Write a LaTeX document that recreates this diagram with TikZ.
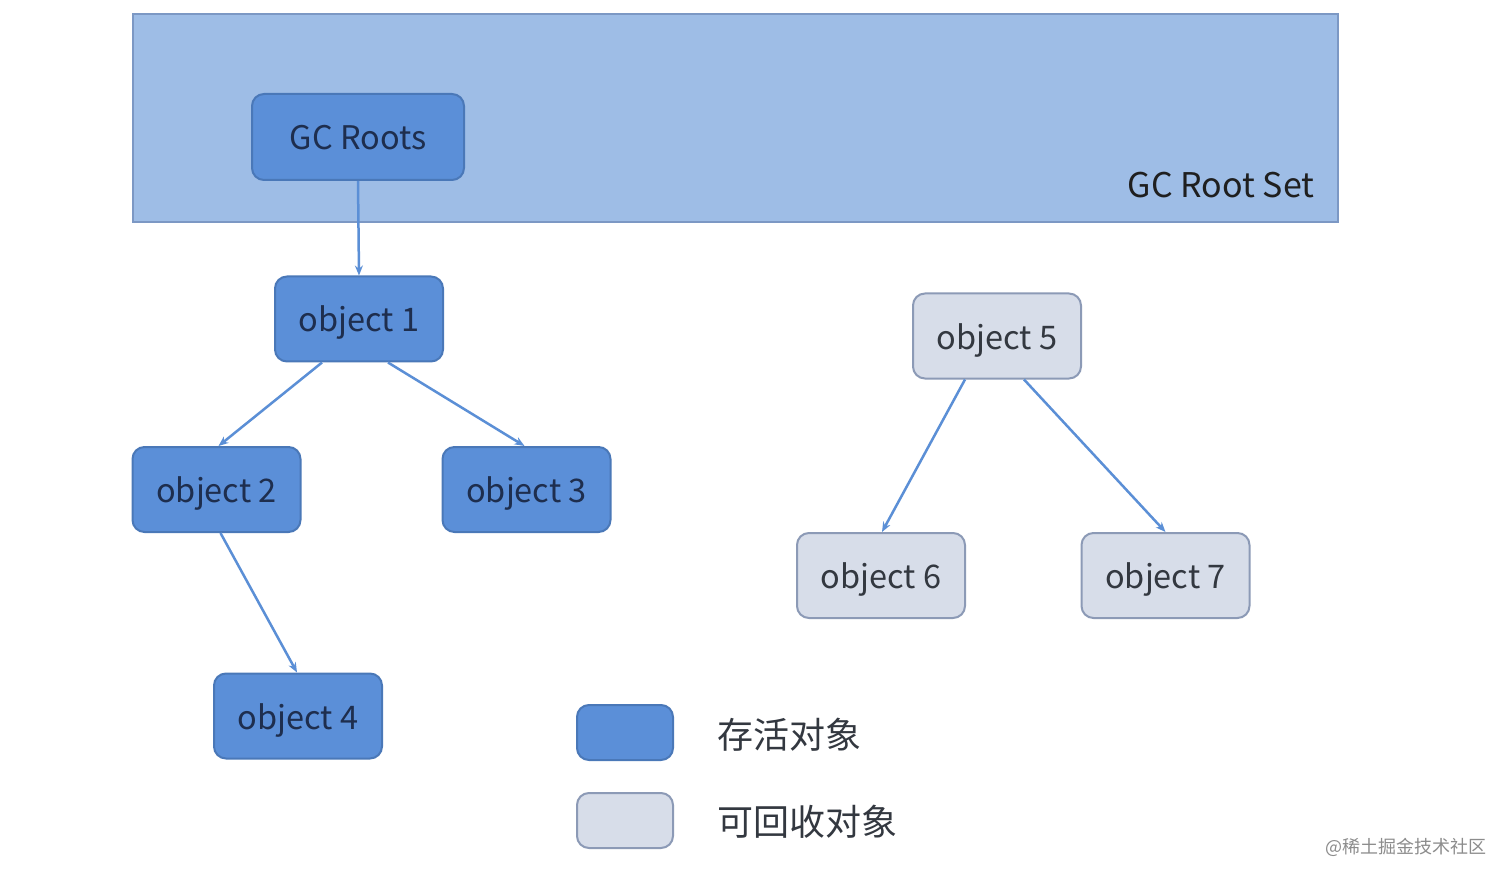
\documentclass[tikz,border=0pt]{standalone}
\usepackage{fontspec}
\setmainfont{Noto Sans CJK SC}
\usetikzlibrary{arrows.meta}
\definecolor{setfill}{HTML}{9EBDE6}
\definecolor{setdraw}{HTML}{7C98C4}
\definecolor{livefill}{HTML}{5B8FD8}
\definecolor{livedraw}{HTML}{4A78B8}
\definecolor{livetext}{HTML}{1E2E4E}
\definecolor{deadfill}{HTML}{D7DDE9}
\definecolor{deaddraw}{HTML}{8C9AB6}
\definecolor{deadtext}{HTML}{333840}
\definecolor{arrowcol}{HTML}{5B8FD6}
\begin{document}
\begin{tikzpicture}[x=1pt,y=-1pt,
  objbox/.style={rounded corners=12pt, line width=2pt, minimum width=168pt, minimum height=85pt, inner sep=0pt, text height=30pt, text depth=4pt, font=\fontsize{32.5}{38}\selectfont},
  live/.style={objbox, fill=livefill, draw=livedraw, text=livetext},
  dead/.style={objbox, fill=deadfill, draw=deaddraw, text=deadtext},
  conn/.style={draw=arrowcol, line width=2.5pt, -{Stealth[length=10pt,width=8pt]}},
  legtext/.style={anchor=west, font=\fontsize{36}{42}\selectfont, text=deadtext}]
\useasboundingbox[fill=white] (0,0) rectangle (1512,882);
\node[fill=setfill, draw=setdraw, line width=2pt, minimum width=1205pt, minimum height=208pt, inner sep=0pt] (set) at (735.5,118) {};
\node[anchor=east, font=\fontsize{34}{40}\selectfont, text=black!88] (settext) at (1318,185) {GC Root Set};
\node[live, minimum width=212pt, minimum height=86pt] (roots) at (358,137) {GC Roots};
\node[live] (o1) at (359,319) {object 1};
\node[live] (o2) at (216.5,489.5) {object 2};
\node[live] (o3) at (526.5,489.5) {object 3};
\node[live] (o4) at (298,716) {object 4};
\node[dead] (o5) at (997,336) {object 5};
\node[dead] (o6) at (881,575.5) {object 6};
\node[dead] (o7) at (1165.5,575.5) {object 7};
\node[live, minimum width=96pt, minimum height=55pt, text height=0pt, text depth=0pt] (leg1) at (625,732.5) {};
\node[dead, minimum width=96pt, minimum height=55pt, text height=0pt, text depth=0pt] (leg2) at (625,820.5) {};
\node[legtext] (leg1t) at (714,735) {存活对象};
\node[legtext] (leg2t) at (714,822) {可回收对象};
\node[anchor=east, font=\fontsize{18}{22}\selectfont, text=black!45] (wm) at (1490,847) {@稀土掘金技术社区};
\draw[conn] (roots.south) -- (o1.north);
\draw[conn] ([xshift=-37pt]o1.south) -- ([xshift=2pt]o2.north);
\draw[conn] ([xshift=29pt]o1.south) -- ([xshift=-2pt]o3.north);
\draw[conn] ([xshift=4pt]o2.south) -- ([xshift=-1pt]o4.north);
\draw[conn] ([xshift=-32pt]o5.south) -- ([xshift=1pt]o6.north);
\draw[conn] ([xshift=27pt]o5.south) -- (o7.north);
\end{tikzpicture}
\end{document}
